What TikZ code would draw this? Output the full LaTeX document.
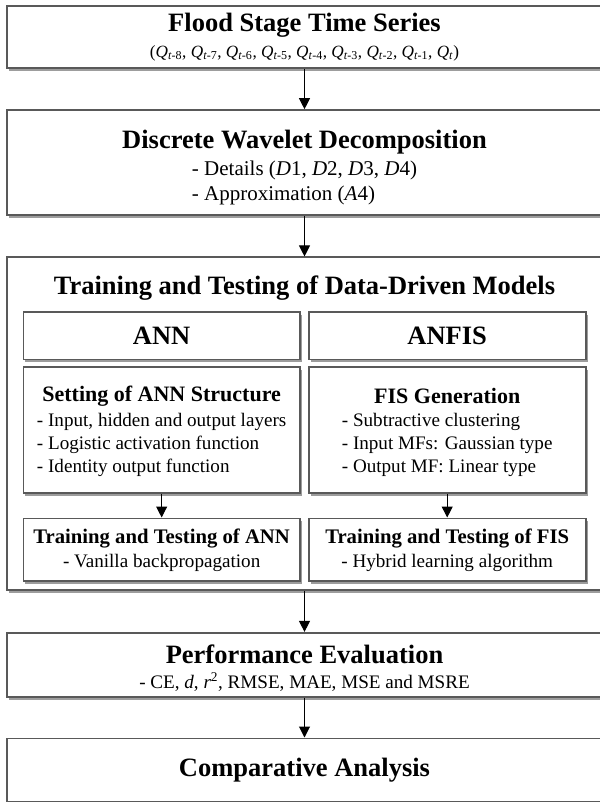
\documentclass[tikz,border=0pt]{standalone}
\usepackage{fontspec}
\setmainfont{Liberation Serif}
\usetikzlibrary{shadows,arrows.meta}
\newcommand{\Qt}[1]{\textit{Q}\textsubscript{\textit{t}-#1}}
\begin{document}
\begin{tikzpicture}[x=1pt,y=-1pt,
  box/.style={draw=black!65, line width=1.6pt, fill=white, rectangle, inner sep=0pt,
    drop shadow={shadow xshift=2pt, shadow yshift=-3pt, fill=black!70, opacity=0.55}},
  ttl/.style={font=\fontsize{26.5}{30}\selectfont\bfseries, inner sep=0pt},
  subttl/.style={font=\fontsize{22}{26}\selectfont\bfseries, inner sep=0pt},
  subttlb/.style={font=\fontsize{20.7}{24}\selectfont\bfseries, inner sep=0pt},
  lst/.style={font=\fontsize{19.1}{23}\selectfont, inner sep=0pt, align=left},
  arr/.style={-{Triangle[length=11pt,width=11pt]}, line width=1pt, black}
]
\useasboundingbox (0,0) rectangle (599,802);
% outer boxes
\node[box, minimum width=595.6pt, minimum height=62pt] (b1) at (304.5,37) {};
\node[box, minimum width=595.6pt, minimum height=105pt] (b2) at (304.5,162.5) {};
\node[box, minimum width=595.6pt, minimum height=332.7pt] (b3) at (304.5,423.6) {};
\node[box, minimum width=595.6pt, minimum height=64pt] (b4) at (304.5,664.7) {};
\node[box, minimum width=595.6pt, minimum height=63pt] (b5) at (304.5,769.8) {};
% inner boxes
\node[box, minimum width=276.7pt, minimum height=47.6pt] (annh) at (161.65,335.5) {};
\node[box, minimum width=277pt, minimum height=47.6pt] (anfh) at (447.2,335.5) {};
\node[box, minimum width=276.7pt, minimum height=126pt] (anns) at (161.65,429.7) {};
\node[box, minimum width=277pt, minimum height=126pt] (anfs) at (447.2,429.7) {};
\node[box, minimum width=276.7pt, minimum height=62.7pt] (annt) at (161.65,549.65) {};
\node[box, minimum width=277pt, minimum height=62.7pt] (anft) at (447.2,549.65) {};
% texts
\node[ttl] (t1) at (304.5,25) {Flood Stage Time Series};
\node[inner sep=0pt, font=\fontsize{17.2}{20}\selectfont] (s1) at (304.5,53)
  {(\Qt{8}, \Qt{7}, \Qt{6}, \Qt{5}, \Qt{4}, \Qt{3}, \Qt{2}, \Qt{1}, \textit{Q}\textsubscript{\textit{t}})};
\node[ttl] (t2) at (304.5,142) {Discrete Wavelet Decomposition};
\node[inner sep=0pt, align=left, font=\fontsize{21}{25}\selectfont] (s2) at (304.5,183)
  {- Details (\textit{D}1, \textit{D}2, \textit{D}3, \textit{D}4)\\- Approximation (\textit{A}4)};
\node[ttl] (t3) at (304.5,288) {Training and Testing of Data-Driven Models};
\node[ttl] (t4) at (161.65,335.5) {ANN};
\node[ttl] (t5) at (447.2,335.5) {ANFIS};
\node[subttl] (t6) at (161.65,396) {Setting of ANN Structure};
\node[lst] (s6) at (161.65,444.5) {- Input, hidden and output layers\\- Logistic activation function\\- Identity output function};
\node[subttl] (t7) at (447.2,396) {FIS Generation};
\node[lst] (s7) at (447.2,444.5) {- Subtractive clustering\\- Input MFs: Gaussian type\\- Output MF: Linear type};
\node[subttlb] (t8) at (161.65,538.3) {Training and Testing of ANN};
\node[lst] (s8) at (161.65,562.7) {- Vanilla backpropagation};
\node[subttlb] (t9) at (447.2,538.3) {Training and Testing of FIS};
\node[lst] (s9) at (447.2,562.7) {- Hybrid learning algorithm};
\node[ttl] (t10) at (304.5,654) {Performance Evaluation};
\node[lst] (s10) at (304.5,682) {- CE, \textit{d}, \textit{r}\textsuperscript{2}, RMSE, MAE, MSE and MSRE};
\node[ttl] (t11) at (304.5,770) {Comparative Analysis};
% connectors
\draw[arr] (b1.south) -- (b2.north);
\draw[arr] (b2.south) -- (b3.north);
\draw[arr] (anns.south) -- (annt.north);
\draw[arr] (anfs.south) -- (anft.north);
\draw[arr] (b3.south) -- (b4.north);
\draw[arr] (b4.south) -- (b5.north);
\end{tikzpicture}
\end{document}
